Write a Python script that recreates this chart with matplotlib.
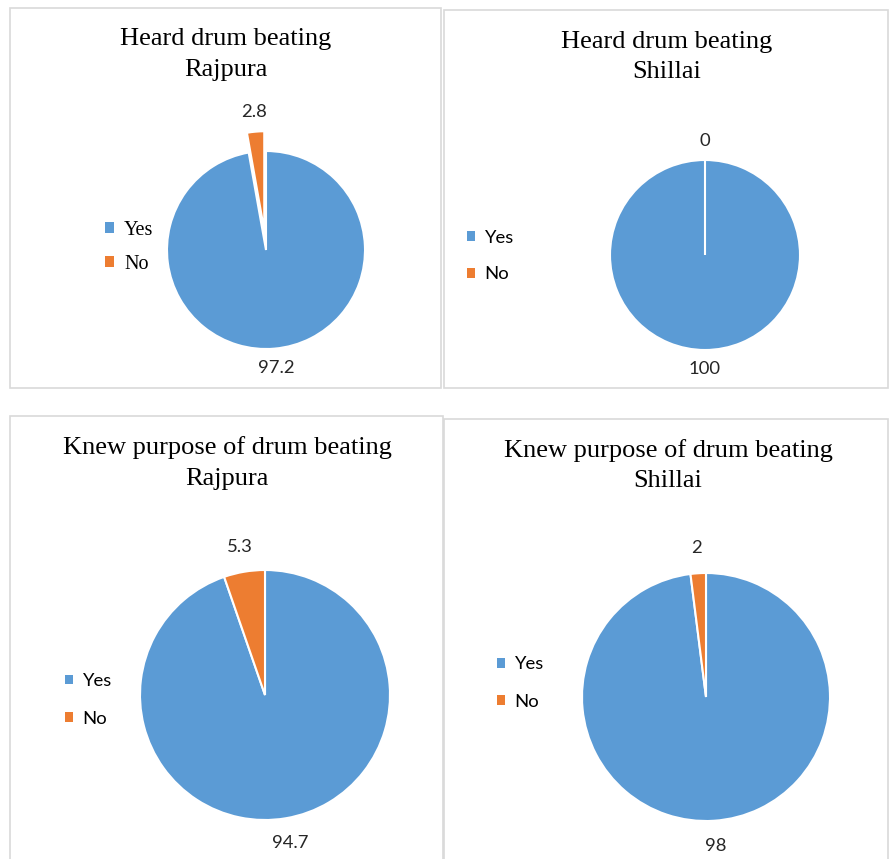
import matplotlib
matplotlib.use('Agg')
import matplotlib.pyplot as plt
from matplotlib.patches import Rectangle, Patch

# chart data
categories = ['Yes', 'No']
heard_rajpura = [97.2, 2.8]
heard_shillai = [100, 0]
knew_rajpura = [94.7, 5.3]
knew_shillai = [98, 2]

titles = [
    ('Heard drum beating', 'Rajpura'),
    ('Heard drum beating', 'Shillai'),
    ('Knew purpose of drum beating', 'Rajpura'),
    ('Knew purpose of drum beating', 'Shillai'),
]

COLORS = ['#5B9BD5', '#ED7D31']
BORDER = '#d9d9d9'
W, H = 889, 859

fig = plt.figure(figsize=(W / 100, H / 100), dpi=100)
fig.patch.set_facecolor('white')


def fx(px):
    return px / W


def fy(py):
    return 1 - py / H


# panel frames (pixel boxes: x0, y0, x1, y1)
frames = [(10, 8, 441, 388), (444, 10, 888, 388),
          (10, 416, 443, 870), (444, 419, 888, 870)]
for x0, y0, x1, y1 in frames:
    fig.add_artist(Rectangle((fx(x0), fy(y1)), (x1 - x0) / W, (y1 - y0) / H,
                             transform=fig.transFigure, fill=False,
                             edgecolor=BORDER, lw=1.2))

# layout for each panel: pie centre, radius, title centres, legend spot
panels = [
    dict(values=heard_rajpura, c=(266, 250), r=99, explode=[0, 0.2],
         t1=(226, 39), t2=(226, 70), leg=(105, 247.5), leg_font='Liberation Serif',
         leg_size=14.5, spacing=0.75),
    dict(values=heard_shillai, c=(705, 255), r=95, explode=[0, 0],
         t1=(667, 42), t2=(667, 72), leg=(467, 256), leg_font='Lato',
         leg_size=13.3, spacing=1.13),
    dict(values=knew_rajpura, c=(265, 695), r=125, explode=[0, 0],
         t1=(227, 448), t2=(227, 479), leg=(65, 700), leg_font='Lato',
         leg_size=13.3, spacing=1.18),
    dict(values=knew_shillai, c=(706, 697), r=124, explode=[0, 0],
         t1=(668, 451), t2=(668, 481), leg=(497, 683), leg_font='Lato',
         leg_size=13.3, spacing=1.15),
]

for p, (line1, line2) in zip(panels, titles):
    cx, cy = p['c']
    r = p['r']
    ax = fig.add_axes([fx(cx - 1.5 * r), fy(cy + 1.5 * r), 3 * r / W, 3 * r / H])
    wedges, texts = ax.pie(p['values'], labels=['{:g}'.format(v) for v in p['values']],
                           colors=COLORS, startangle=90, counterclock=False,
                           explode=p['explode'], labeldistance=1.2,
                           wedgeprops=dict(edgecolor='white', linewidth=1.5),
                           textprops=dict(family='Lato', size=13.3, color='#262626'))
    for t in texts:
        t.set_ha('center')
    ax.set_xlim(-1.5, 1.5)
    ax.set_ylim(-1.5, 1.5)
    ax.set_aspect('equal')
    ax.axis('off')

    fig.text(fx(p['t1'][0]), fy(p['t1'][1]), line1, ha='center', va='center',
             family='Liberation Serif', size=19, color='black')
    fig.text(fx(p['t2'][0]), fy(p['t2'][1]), line2, ha='center', va='center',
             family='Liberation Serif', size=19, color='black')

    handles = [Patch(facecolor=c, edgecolor='none') for c in COLORS]
    ax.legend(handles, categories, loc='center left',
              bbox_to_anchor=(fx(p['leg'][0]), fy(p['leg'][1])),
              bbox_transform=fig.transFigure, frameon=False,
              handlelength=0.45, handleheight=0.45, handletextpad=0.5,
              labelspacing=p['spacing'], borderpad=0, borderaxespad=0,
              prop=dict(family=p['leg_font'], size=p['leg_size']))

fig.savefig('out.png', dpi=100)
